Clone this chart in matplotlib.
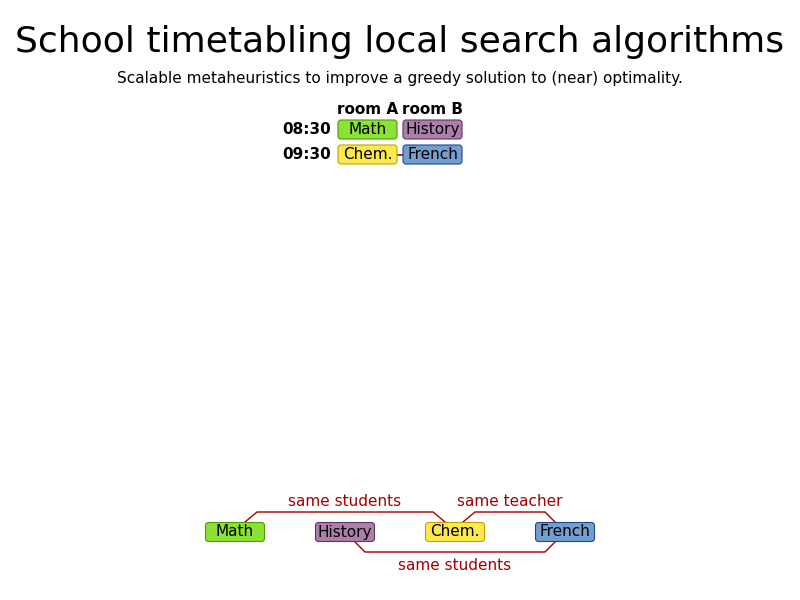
import matplotlib
matplotlib.use("Agg")
import matplotlib.pyplot as plt
from matplotlib.patches import FancyBboxPatch

lessons = ["Math", "History", "Chem.", "French"]
colors = ["#8ae234", "#ad7fa8", "#fce94f", "#729fcf"]
edges = ["#4e9a06", "#5c3566", "#c4a000", "#204a87"]
rooms = ["room A", "room B"]
times = ["08:30", "09:30"]
# (lesson a, lesson b, label, above?)
constraints = [(0, 2, "same students", True), (2, 3, "same teacher", True), (1, 3, "same students", False)]
red = "#a40000"

fig = plt.figure(figsize=(8, 6), dpi=100)
ax = fig.add_axes([0, 0, 1, 1])
ax.set_xlim(0, 800); ax.set_ylim(600, 0); ax.axis("off")

def box(cx, cy, w, h, i):
    ax.add_patch(FancyBboxPatch((cx - w/2 + 3, cy - h/2 + 3), w - 6, h - 6,
                                boxstyle="round,pad=3", fc=colors[i], ec=edges[i], lw=0.8, zorder=3))
    ax.text(cx, cy, lessons[i], ha="center", va="center", fontsize=11, zorder=4)

ax.text(400, 42, "School timetabling local search algorithms", ha="center", va="center", fontsize=26)
ax.text(400, 79, "Scalable metaheuristics to improve a greedy solution to (near) optimality.",
        ha="center", va="center", fontsize=11)

# timetable
colx = [367.5, 432.5]; rowy = [129.5, 154.5]
for x, r in zip(colx, rooms):
    ax.text(x, 109, r, ha="center", va="center", fontsize=11, fontweight="bold")
for y, t in zip(rowy, times):
    ax.text(307, y, t, ha="center", va="center", fontsize=11, fontweight="bold")
ax.plot([397, 403], [rowy[1], rowy[1]], color=red, lw=1.2, zorder=2)
for i, (c, r) in enumerate([(0, 0), (1, 0), (0, 1), (1, 1)]):
    box(colx[c], rowy[r], 59, 19, i)

# constraint graph
bx = [235, 345, 455, 565]; by = 532
for i in range(4):
    box(bx[i], by, 59, 19, i)
for a, b, lab, above in constraints:
    if above:
        xs = [bx[a] + 10, bx[a] + 22, bx[b] - 22, bx[b] - 10]
        if a == 2: xs = [bx[a] + 8, bx[a] + 20, bx[b] - 20, bx[b] - 10]
        ys = [by - 10, by - 20, by - 20, by - 10]
        ty = 502
    else:
        xs = [bx[a] + 10, bx[a] + 20, bx[b] - 20, bx[b] - 10]
        ys = [by + 10, by + 20, by + 20, by + 10]
        ty = 565
    ax.plot(xs, ys, color=red, lw=1, zorder=2)
    ax.text((xs[1] + xs[2]) / 2, ty, lab, ha="center", va="center", fontsize=11, color=red)

fig.savefig("out.png", dpi=100)
